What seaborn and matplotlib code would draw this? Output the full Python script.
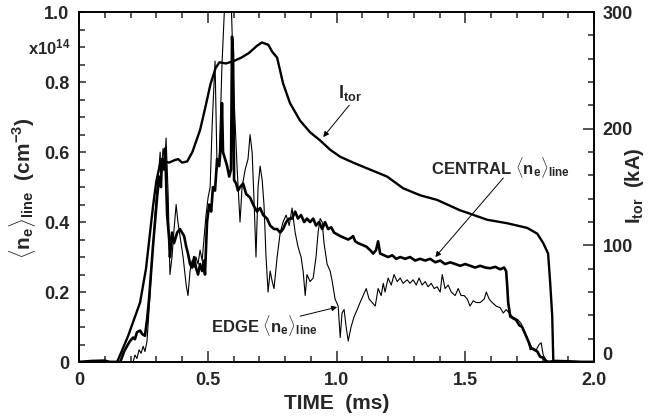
import numpy as np
import matplotlib
matplotlib.use('Agg')
import matplotlib.pyplot as plt
from matplotlib.ticker import MultipleLocator, FixedLocator, FixedFormatter
from matplotlib.transforms import ScaledTranslation
import seaborn as sns

# toroidal current (kA)
itor_t = [0.0, 0.14, 0.148, 0.19, 0.237, 0.26, 0.287, 0.30, 0.315, 0.33, 0.35, 0.37, 0.385,
          0.40, 0.42, 0.44, 0.47, 0.49, 0.51, 0.53, 0.545, 0.57, 0.60, 0.63, 0.66, 0.69,
          0.71, 0.735, 0.75, 0.769, 0.792, 0.819, 0.858, 0.897, 0.936, 0.975, 1.014, 1.064,
          1.130, 1.196, 1.258, 1.324, 1.390, 1.480, 1.507, 1.584, 1.662, 1.740, 1.779, 1.802,
          1.821, 1.829, 1.837, 1.841, 1.846, 2.0]
itor_ka = [0, 0, 0, 22, 51, 80, 133, 155, 170, 172, 171, 173, 174,
           171, 172, 180, 199, 218, 238, 252, 257, 256, 258, 261, 265, 271,
           274, 272, 266, 261, 239, 222, 207, 197, 190, 182, 176, 171,
           165, 159, 149, 143, 139, 130, 128, 122, 119, 115, 110, 102,
           93, 68, 39, 2, 0, 0]

# central line-averaged density (1e14 cm^-3)
central_t = [0.0, 0.05, 0.10, 0.12, 0.16, 0.175, 0.186, 0.198, 0.210, 0.217, 0.225, 0.237,
             0.245, 0.256, 0.264, 0.272, 0.280, 0.287, 0.295, 0.303, 0.311, 0.318, 0.322,
             0.330, 0.334, 0.338, 0.342, 0.350, 0.353, 0.361, 0.369, 0.381, 0.392, 0.400,
             0.408, 0.416, 0.423, 0.431, 0.439, 0.447, 0.454, 0.462, 0.470, 0.478, 0.485,
             0.489, 0.497, 0.505, 0.513, 0.520, 0.528, 0.536, 0.544, 0.551, 0.555, 0.559,
             0.567, 0.575, 0.583, 0.590, 0.594, 0.598, 0.602, 0.610, 0.617, 0.625, 0.637,
             0.649, 0.664, 0.676, 0.691, 0.703, 0.715, 0.730, 0.742, 0.757, 0.769, 0.781,
             0.792, 0.804, 0.816, 0.827, 0.839, 0.850, 0.862, 0.874, 0.885, 0.897, 0.909,
             0.920, 0.932, 0.944, 0.955, 0.967, 0.979, 0.990, 1.002, 1.014, 1.029, 1.045,
             1.056, 1.064, 1.072, 1.083, 1.099, 1.115, 1.130, 1.142, 1.153, 1.161, 1.169,
             1.184, 1.200, 1.216, 1.231, 1.247, 1.266, 1.285, 1.305, 1.324, 1.344, 1.363,
             1.383, 1.402, 1.421, 1.441, 1.460, 1.480, 1.499, 1.518, 1.538, 1.557, 1.577,
             1.596, 1.616, 1.635, 1.650, 1.658, 1.662, 1.666, 1.674, 1.685, 1.697, 1.709,
             1.720, 1.732, 1.744, 1.755, 1.767, 1.779, 1.790, 1.802, 1.817, 1.85, 1.90,
             1.95, 2.0]
central_n = [0.0, 0.003, 0.004, 0.0, 0.0, 0.03, 0.045, 0.06, 0.07, 0.065, 0.085, 0.09,
             0.08, 0.075, 0.12, 0.18, 0.26, 0.33, 0.40, 0.47, 0.53, 0.50, 0.58,
             0.55, 0.61, 0.52, 0.42, 0.35, 0.30, 0.37, 0.34, 0.37, 0.38, 0.37,
             0.36, 0.33, 0.31, 0.28, 0.27, 0.30, 0.27, 0.25, 0.28, 0.26, 0.29,
             0.25, 0.40, 0.45, 0.43, 0.50, 0.49, 0.58, 0.56, 0.62, 0.74, 0.60,
             0.58, 0.56, 0.53, 0.55, 0.93, 0.88, 0.52, 0.51, 0.49, 0.50, 0.51,
             0.48, 0.47, 0.45, 0.43, 0.44, 0.42, 0.41, 0.39, 0.38, 0.38, 0.37,
             0.38, 0.40, 0.41, 0.41, 0.43, 0.41, 0.42, 0.40, 0.41, 0.40, 0.41,
             0.39, 0.40, 0.38, 0.40, 0.38, 0.385, 0.37, 0.365, 0.36, 0.355, 0.35,
             0.355, 0.36, 0.345, 0.34, 0.335, 0.33, 0.32, 0.31, 0.32, 0.345, 0.31,
             0.305, 0.30, 0.305, 0.295, 0.30, 0.295, 0.30, 0.29, 0.295, 0.29, 0.295,
             0.285, 0.29, 0.28, 0.285, 0.28, 0.275, 0.28, 0.275, 0.27, 0.275, 0.27,
             0.268, 0.272, 0.265, 0.27, 0.26, 0.22, 0.17, 0.13, 0.125, 0.12, 0.105,
             0.10, 0.08, 0.06, 0.04, 0.035, 0.03, 0.015, 0.012, 0.0, 0.003, 0.002,
             0.0, 0.0]

# edge line-averaged density (1e14 cm^-3)
edge_t = [0.0, 0.210, 0.217, 0.225, 0.233, 0.241, 0.249, 0.256, 0.264, 0.272, 0.280, 0.287,
          0.295, 0.303, 0.311, 0.315, 0.318, 0.326, 0.334, 0.338, 0.346, 0.353, 0.361,
          0.369, 0.377, 0.384, 0.392, 0.404, 0.416, 0.423, 0.431, 0.439, 0.447, 0.454,
          0.462, 0.470, 0.478, 0.485, 0.493, 0.501, 0.509, 0.517, 0.528, 0.536, 0.544,
          0.555, 0.567, 0.590, 0.602, 0.614, 0.625, 0.633, 0.645, 0.656, 0.664, 0.672,
          0.680, 0.687, 0.695, 0.703, 0.711, 0.718, 0.726, 0.734, 0.742, 0.750, 0.757,
          0.769, 0.781, 0.792, 0.804, 0.816, 0.827, 0.839, 0.850, 0.862, 0.870, 0.878,
          0.885, 0.897, 0.909, 0.920, 0.928, 0.936, 0.944, 0.951, 0.963, 0.975, 0.983,
          0.994, 1.006, 1.014, 1.021, 1.029, 1.037, 1.045, 1.056, 1.068, 1.080, 1.091,
          1.103, 1.115, 1.126, 1.138, 1.150, 1.161, 1.173, 1.181, 1.188, 1.200, 1.212,
          1.223, 1.235, 1.247, 1.258, 1.274, 1.285, 1.297, 1.309, 1.320, 1.332, 1.344,
          1.355, 1.367, 1.379, 1.390, 1.402, 1.410, 1.421, 1.433, 1.445, 1.460, 1.472,
          1.483, 1.495, 1.507, 1.518, 1.530, 1.542, 1.557, 1.573, 1.581, 1.592, 1.604,
          1.619, 1.635, 1.647, 1.658, 1.670, 1.682, 1.693, 1.705, 1.716, 1.728, 1.740,
          1.751, 1.763, 1.775, 1.786, 1.794, 1.802, 1.813, 1.829, 1.87, 1.90, 2.0]
edge_n = [0.0, 0.0, 0.02, 0.01, 0.035, 0.025, 0.045, 0.03, 0.06, 0.15, 0.25, 0.33,
          0.42, 0.50, 0.56, 0.60, 0.52, 0.61, 0.58, 0.64, 0.48, 0.25, 0.30,
          0.38, 0.45, 0.40, 0.36, 0.30, 0.22, 0.19, 0.26, 0.29, 0.27, 0.30,
          0.28, 0.32, 0.29, 0.35, 0.42, 0.47, 0.50, 0.68, 0.86, 0.55, 0.58,
          0.85, 1.05, 1.05, 0.75, 0.55, 0.40, 0.50, 0.55, 0.58, 0.65, 0.60,
          0.45, 0.30, 0.50, 0.56, 0.52, 0.45, 0.30, 0.20, 0.26, 0.23, 0.21,
          0.30, 0.37, 0.40, 0.42, 0.39, 0.44, 0.37, 0.33, 0.30, 0.26, 0.19,
          0.25, 0.23, 0.24, 0.30, 0.37, 0.41, 0.40, 0.34, 0.28, 0.26, 0.23,
          0.18, 0.16, 0.07, 0.14, 0.15, 0.10, 0.06, 0.10, 0.13, 0.15, 0.17,
          0.19, 0.21, 0.18, 0.17, 0.16, 0.21, 0.19, 0.225, 0.20, 0.24, 0.22,
          0.25, 0.23, 0.24, 0.225, 0.235, 0.225, 0.235, 0.22, 0.24, 0.22, 0.23,
          0.215, 0.225, 0.21, 0.215, 0.20, 0.25, 0.21, 0.22, 0.20, 0.19, 0.21,
          0.19, 0.19, 0.18, 0.16, 0.175, 0.17, 0.17, 0.18, 0.20, 0.18, 0.17,
          0.16, 0.155, 0.14, 0.15, 0.14, 0.13, 0.125, 0.12, 0.11, 0.09, 0.07,
          0.035, 0.04, 0.035, 0.05, 0.055, 0.02, 0.005, 0.0, 0.003, 0.0, 0.0]

sns.set_style('ticks')
plt.rcParams['font.family'] = ['Liberation Sans', 'DejaVu Sans']
plt.rcParams['font.weight'] = 'bold'
plt.rcParams['mathtext.fontset'] = 'custom'
plt.rcParams['mathtext.rm'] = 'Liberation Sans:bold'
plt.rcParams['mathtext.it'] = 'Liberation Sans:bold'
plt.rcParams['mathtext.bf'] = 'Liberation Sans:bold'

fig = plt.figure(figsize=(6.53, 4.19), dpi=100)
ax = fig.add_axes([0.121, 0.136, 0.789, 0.835])
ax2 = ax.twinx()

sns.lineplot(x=edge_t, y=edge_n, ax=ax, color='k', lw=0.8, sort=False, estimator=None)
sns.lineplot(x=central_t, y=central_n, ax=ax, color='k', lw=1.9, sort=False, estimator=None)
sns.lineplot(x=itor_t, y=itor_ka, ax=ax2, color='k', lw=1.7, sort=False, estimator=None)

ax.set_xlim(0, 2.0)
ax.set_ylim(0, 1.0)
ax2.set_ylim(0, 300)

ax.xaxis.set_major_locator(FixedLocator([0, 0.5, 1.0, 1.5, 2.0]))
ax.xaxis.set_major_formatter(FixedFormatter(['0', '0.5', '1.0', '1.5', '2.0']))
ax.xaxis.set_minor_locator(MultipleLocator(0.1))
ax.yaxis.set_major_locator(FixedLocator([0, 0.2, 0.4, 0.6, 0.8, 1.0]))
ax.yaxis.set_major_formatter(FixedFormatter(['0', '0.2', '0.4', '0.6', '0.8', '1.0']))
ax.yaxis.set_minor_locator(MultipleLocator(0.05))
ax2.yaxis.set_major_locator(FixedLocator([0, 100, 200, 300]))
ax2.yaxis.set_minor_locator(MultipleLocator(20))

for a in (ax, ax2):
    for s in a.spines.values():
        s.set_linewidth(1.2)
        s.set_color('k')
    a.set_facecolor('none')

ax.tick_params(axis='x', which='both', direction='in', top=True, bottom=True,
               labelsize=13, pad=7, width=1.1)
ax.tick_params(axis='x', which='major', length=8)
ax.tick_params(axis='x', which='minor', length=4.5)
ax.tick_params(axis='y', which='both', direction='in', left=True, right=False,
               labelsize=13, pad=7, width=1.1)
ax.tick_params(axis='y', which='major', length=5)
ax.tick_params(axis='y', which='minor', length=4)
ax2.tick_params(axis='y', which='both', direction='in', right=True,
                labelsize=13, pad=6, width=1.1)
ax2.tick_params(axis='y', which='major', length=8)
ax2.tick_params(axis='y', which='minor', length=4.5)
for lab in ax.get_xticklabels() + ax.get_yticklabels() + ax2.get_yticklabels():
    lab.set_fontweight('bold')

# right-hand "0" sits a little above its tick, clear of the "2.0"
zero_lab = ax2.yaxis.get_major_ticks()[0].label2
zero_lab.set_transform(zero_lab.get_transform() +
                       ScaledTranslation(0, 6 / 72, fig.dpi_scale_trans))

ax.text(-0.017, 0.9, r'x10$^{14}$', transform=ax.get_yaxis_transform(),
        ha='right', va='center', fontsize=12, fontweight='bold')

ax.set_xlabel('TIME  (ms)', fontsize=15, fontweight='bold', labelpad=4)
fig.text(22 / 653, 1 - 188 / 419, r'$\langle$n$_e\rangle_{line}$  (cm$^{-3}$)',
         rotation=90, ha='center', va='center', fontsize=15, fontweight='bold')
fig.text(634 / 653, 1 - 186 / 419, r'I$_{tor}$  (kA)', rotation=90,
         ha='center', va='center', fontsize=14.5, fontweight='bold')

arrow = dict(arrowstyle='-|>', color='k', lw=0.7, mutation_scale=8,
             shrinkA=0, shrinkB=0)
ax.annotate('', xy=(0.948, 0.643), xytext=(1.049, 0.734), arrowprops=arrow)
ax.text(1.052, 0.769, r'I$_{tor}$', ha='center', va='center', fontsize=13,
        fontweight='bold')
ax.annotate('', xy=(1.383, 0.30), xytext=(1.647, 0.526), arrowprops=arrow)
ax.text(1.635, 0.557, r'CENTRAL $\langle$n$_e\rangle_{line}$', ha='center',
        va='center', fontsize=12, fontweight='bold')
ax.annotate('', xy=(1.002, 0.157), xytext=(0.858, 0.131), arrowprops=arrow)
ax.text(0.718, 0.103, r'EDGE $\langle$n$_e\rangle_{line}$', ha='center',
        va='center', fontsize=12, fontweight='bold')

fig.savefig('out.png', dpi=100)
